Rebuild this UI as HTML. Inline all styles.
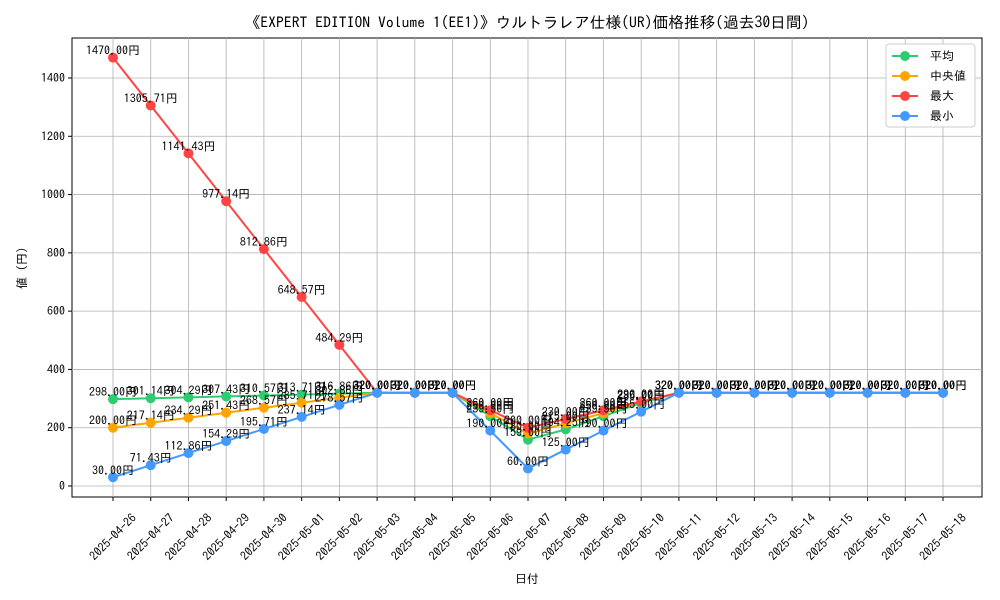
<!DOCTYPE html>
<html><head><meta charset="utf-8">
<style>
body{margin:0;background:#fff;}
svg{display:block;font-family:"IPAGothic","Noto Sans CJK JP",sans-serif;}
</style></head>
<body>
<svg id="c" width="1000" height="600">
<text x="527" y="28" text-anchor="middle" font-size="15.7">《EXPERT EDITION Volume 1(EE1)》ウルトラレア仕様(UR)価格推移(過去30日間)</text>
<rect x="72" y="38" width="910" height="459" fill="none" stroke="#000" stroke-width="1"/>
<g id="grid"></g><g id="series"></g><g id="labels"></g>
<text x="527" y="583" text-anchor="middle" font-size="12">日付</text>
<text transform="translate(26,268) rotate(-90)" text-anchor="middle" font-size="12">値 (円)</text>
<g>
<rect x="886" y="44" width="89" height="83" fill="#fff" stroke="#ccc" rx="3"/>
<g id="leg"></g>
</g>
</svg>
<script>
const dates=["2025-04-26","2025-04-27","2025-04-28","2025-04-29","2025-04-30","2025-05-01","2025-05-02","2025-05-03","2025-05-04","2025-05-05","2025-05-06","2025-05-07","2025-05-08","2025-05-09","2025-05-10","2025-05-11","2025-05-12","2025-05-13","2025-05-14","2025-05-15","2025-05-16","2025-05-17","2025-05-18"];
const avgVals=[298,301.14,304.29,307.43,310.57,313.71,316.86,320,320,320,239.5,159,194.25,239.5,285,320,320,320,320,320,320,320,320];
const medVals=[200,217.14,234.29,251.43,268.57,285.71,302.86,320,320,320,250,180,215,250,290,320,320,320,320,320,320,320,320];
const maxVals=[1470,1305.71,1141.43,977.14,812.86,648.57,484.29,320,320,320,260,200,230,260,290,320,320,320,320,320,320,320,320];
const minVals=[30,71.43,112.86,154.29,195.71,237.14,278.57,320,320,320,190,60,125,190,255,320,320,320,320,320,320,320,320];
const yTicks=[0,200,400,600,800,1000,1200,1400];
const seriesNames=["平均","中央値","最大","最小"];
const colors=["#2ecc71","#ffa500","#ff4444","#4499ff"];
const NS="http://www.w3.org/2000/svg";
const xS=i=>113+i*(830/(dates.length-1));
const yS=v=>486-v*(408/1400);
function mk(tag,attrs,parent){const e=document.createElementNS(NS,tag);for(const k in attrs)e.setAttribute(k,attrs[k]);parent.appendChild(e);return e;}
const grid=document.getElementById('grid');
yTicks.forEach(t=>{
  const l=mk('line',{x1:72,x2:982,y1:yS(t),y2:yS(t),stroke:'#b0b0b0','stroke-width':0.8},grid);
  
  
  mk('line',{x1:68,x2:72,y1:yS(t),y2:yS(t),stroke:'#000'},grid);
  const tx=mk('text',{x:65,y:yS(t)+4,'text-anchor':'end','font-size':12},grid);
  tx.textContent=t;
  
  
});
dates.forEach((d,i)=>{
  const x=xS(i);
  const l=mk('line',{x1:x,x2:x,y1:38,y2:497,stroke:'#b0b0b0','stroke-width':0.8},grid);
  
  
  mk('line',{x1:x,x2:x,y1:497,y2:501,stroke:'#000'},grid);
  const tx=mk('text',{x:x,y:541,'text-anchor':'middle','font-size':12,transform:`rotate(-45 ${x} 537)`},grid);
  tx.textContent=d;
  
  
});
const all=[avgVals,medVals,maxVals,minVals];
const sg=document.getElementById('series'),lg=document.getElementById('labels');
all.forEach((vals,s)=>{
  const g=mk('g',{},sg);
  
  
  mk('polyline',{points:vals.map((v,i)=>xS(i)+','+yS(v)).join(' '),fill:'none',stroke:colors[s],'stroke-width':2},g);
  vals.forEach((v,i)=>{
    const c=mk('circle',{cx:xS(i),cy:yS(v),r:5,fill:colors[s]},g);
    
    
    const t=mk('text',{x:xS(i),y:yS(v)-3,'text-anchor':'middle','font-size':12},lg);
    t.textContent=v.toFixed(2)+'円';
    
    
  });
});
const leg=document.getElementById('leg');
seriesNames.forEach((n,s)=>{
  const y=56+s*20;
  mk('line',{x1:892,x2:918,y1:y,y2:y,stroke:colors[s],'stroke-width':2},leg);
  mk('circle',{cx:905,cy:y,r:5,fill:colors[s]},leg);
  const t=mk('text',{x:930,y:y+4,'font-size':12},leg);
  t.textContent=(s==1?' ':'')+n;
  
  
});
</script>
</body></html>
